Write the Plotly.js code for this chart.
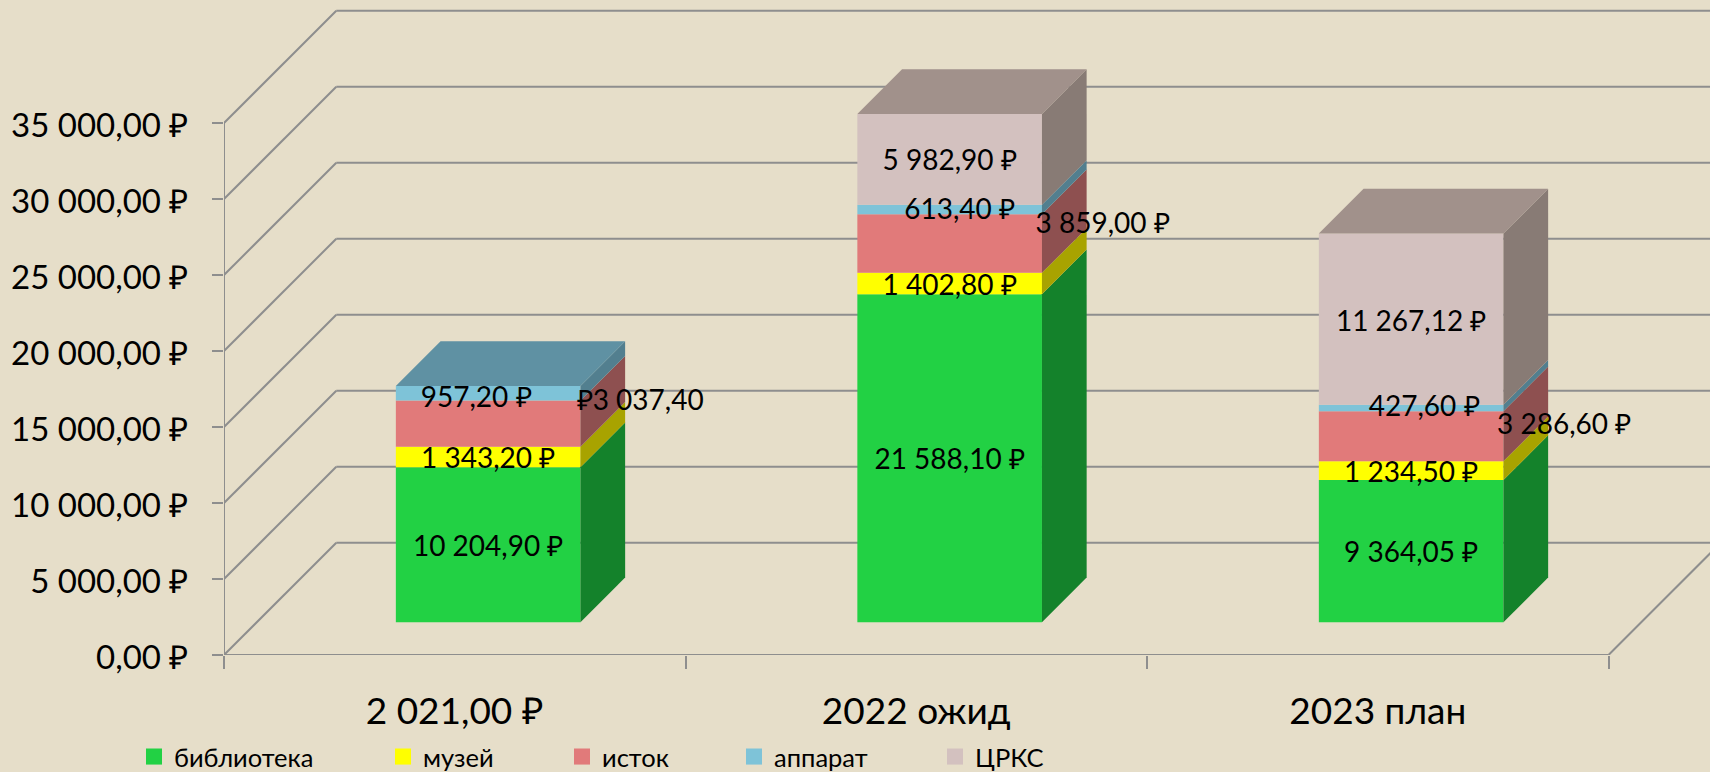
<!DOCTYPE html>
<html><head><meta charset="utf-8">
<script src="https://cdn.plot.ly/plotly-3.0.1.min.js"></script>
<style>html,body{margin:0;padding:0;width:1710px;height:772px;background:#e6dec9;overflow:hidden}</style>
</head><body><div id="chart" style="width:1710px;height:800px"></div>
<script>
const categories = ['2 021,00 ₽', '2022 ожид', '2023 план'];
const seriesNames = ['библиотека', 'музей', 'исток', 'аппарат', 'ЦРКС'];
const biblioteka = [10204.90, 21588.10, 9364.05];
const muzei = [1343.20, 1402.80, 1234.50];
const istok = [3037.40, 3859.00, 3286.60];
const apparat = [957.20, 613.40, 427.60];
const crks = [null, 5982.90, 11267.12];
const labelsBiblioteka = ['10 204,90 ₽', '21 588,10 ₽', '9 364,05 ₽'];
const labelsMuzei = ['1 343,20 ₽', '1 402,80 ₽', '1 234,50 ₽'];
const labelsIstok = ['₽3 037,40', '3 859,00 ₽', '3 286,60 ₽'];
const labelsApparat = ['957,20 ₽', '613,40 ₽', '427,60 ₽'];
const labelsCrks = ['', '5 982,90 ₽', '11 267,12 ₽'];
const yTickValues = [0, 5000, 10000, 15000, 20000, 25000, 30000, 35000];
const yTickLabels = ['0,00 ₽', '5 000,00 ₽', '10 000,00 ₽', '15 000,00 ₽', '20 000,00 ₽', '25 000,00 ₽', '30 000,00 ₽', '35 000,00 ₽'];

const values = [biblioteka, muzei, istok, apparat, crks];
const labels = [labelsBiblioteka, labelsMuzei, labelsIstok, labelsApparat, labelsCrks];
const frontColors = ['#22d144', '#ffff00', '#e17a7a', '#7ec3d8', '#d3c1bf'];
const sideColors = ['#14822b', '#a8a300', '#8e5050', '#527f8f', '#887b75'];
const topColors = ['#1a9a35', '#bdb800', '#a05a5a', '#5f91a3', '#a1918b'];
// label nudges in pixels: series by category
const nudgeX = [[0,0,0],[0,0,0],[152,153,153],[-12,10,13],[0,0,0]];
const nudgeY = [[4,4,4],[4,4,4],[-21,-18,-9],[7,2,1],[0,4,5]];

// the figure is drawn slightly taller than the window so the bottom legend row needs no margin push
const W = 1710, H = 800, ML = 224, PLOT_H = 655, MB = H - PLOT_H;
const pxX = 461.5, pxY = 76 / 5000;        // pixels per x unit, per y unit
const xMax = (W - ML) / pxX, yMax = PLOT_H / pxY;
const dx = p => p / pxX, dy = p => p / pxY;
const wallDepth = 112.3, barShiftX = 33.4, barShiftY = 32.7, barDepth = 44.7, barWidth = 184.6 / pxX;
const grid = '#8e8e8e';
const fontFamily = 'Lato, "Open Sans", sans-serif';

const line = (x0, y0, x1, y1) => ({type:'line', xref:'x', yref:'y', x0, y0, x1, y1, layer:'below', line:{color:grid, width:2}});
const shapes = [];
yTickValues.forEach(v => {
  shapes.push(line(0, v, dx(wallDepth), v + dy(wallDepth)));
  shapes.push(line(dx(wallDepth), v + dy(wallDepth), xMax, v + dy(wallDepth)));
});
shapes.push(line(0, 0, 0, yTickValues[yTickValues.length - 1]));
shapes.push(line(0, 0, 3, 0));
shapes.push(line(3, 0, 3 + dx(wallDepth), dy(wallDepth)));

const traces = [];
const centers = categories.map((c, i) => i + 0.5 + dx(barShiftX));
const lift = dy(barShiftY);
const cum = categories.map(() => 0);
const textX = [], textY = [], textS = [];
values.forEach((vals, s) => {
  const bases = vals.map((v, i) => cum[i] + lift);
  traces.push({type:'bar', x:centers, y:vals, base:bases, width:barWidth, marker:{color:frontColors[s], line:{width:0}}, showlegend:false, hoverinfo:'skip'});
  vals.forEach((v, i) => {
    if (v === null) return;
    const b = cum[i] + lift, t = b + v, xr = centers[i] + barWidth / 2, d = dx(barDepth), e = dy(barDepth);
    traces.push({type:'scatter', mode:'lines', x:[xr, xr + d, xr + d, xr, xr], y:[b, b + e, t + e, t, b], fill:'toself', fillcolor:sideColors[s], line:{width:0}, showlegend:false, hoverinfo:'skip'});
    textX.push(centers[i] + dx(nudgeX[s][i]));
    textY.push(b + v / 2 - dy(nudgeY[s][i]));
    textS.push(labels[s][i]);
    cum[i] += v;
    const topHere = values.slice(s + 1).every(a => a[i] === null);
    if (topHere) {
      const tt = cum[i] + lift, xl = centers[i] - barWidth / 2;
      traces.push({type:'scatter', mode:'lines', x:[xl, xr, xr + d, xl + d, xl], y:[tt, tt, tt + e, tt + e, tt], fill:'toself', fillcolor:topColors[s], line:{width:0}, showlegend:false, hoverinfo:'skip'});
    }
  });
});
traces.push({type:'scatter', mode:'text', x:textX, y:textY, text:textS, textposition:'middle center', textfont:{family:fontFamily, size:28, color:'#000'}, cliponaxis:false, showlegend:false, hoverinfo:'skip'});

const legendX = [147, 396, 575, 747, 948];
const legends = {};
seriesNames.forEach((n, s) => {
  const key = s === 0 ? 'legend' : 'legend' + (s + 1);
  traces.push({type:'scatter', mode:'markers', x:[null], y:[null], name:n, legend:key, marker:{symbol:'square', size:16, color:frontColors[s]}, hoverinfo:'skip'});
  legends[key] = {x:(legendX[s] - 13 - ML) / (W - ML), xanchor:'left', y:(PLOT_H - 757) / PLOT_H, yanchor:'middle',
    bgcolor:'rgba(0,0,0,0)', borderwidth:0, itemwidth:30, itemclick:false, itemdoubleclick:false, font:{family:fontFamily, size:25.5, color:'#000'}};
});

const layout = Object.assign({
  width:W, height:H, margin:{l:ML, r:0, t:0, b:MB, pad:0},
  paper_bgcolor:'#e6dec9', plot_bgcolor:'rgba(0,0,0,0)', barmode:'overlay', showlegend:true, shapes,
  xaxis:{range:[0, xMax], tickmode:'array', tickvals:[0.5, 1.5, 2.5], ticktext:categories, ticks:'', showgrid:false, zeroline:false, showline:false,
    ticklabelstandoff:31, tickfont:{family:fontFamily, size:37, color:'#000'},
    minor:{tickmode:'array', tickvals:[0, 1, 2, 3], ticks:'outside', ticklen:13, tickwidth:2, tickcolor:grid, showgrid:false}},
  yaxis:{range:[0, yMax], tickmode:'array', tickvals:yTickValues, ticktext:yTickLabels, ticks:'outside', ticklen:11, tickwidth:2, tickcolor:grid, showgrid:false, zeroline:false, showline:false,
    ticklabelstandoff:17, ticklabelshift:2, tickfont:{family:fontFamily, size:33, color:'#000'}}
}, legends);
Plotly.newPlot('chart', traces, layout, {displayModeBar:false, staticPlot:true});
</script></body></html>
